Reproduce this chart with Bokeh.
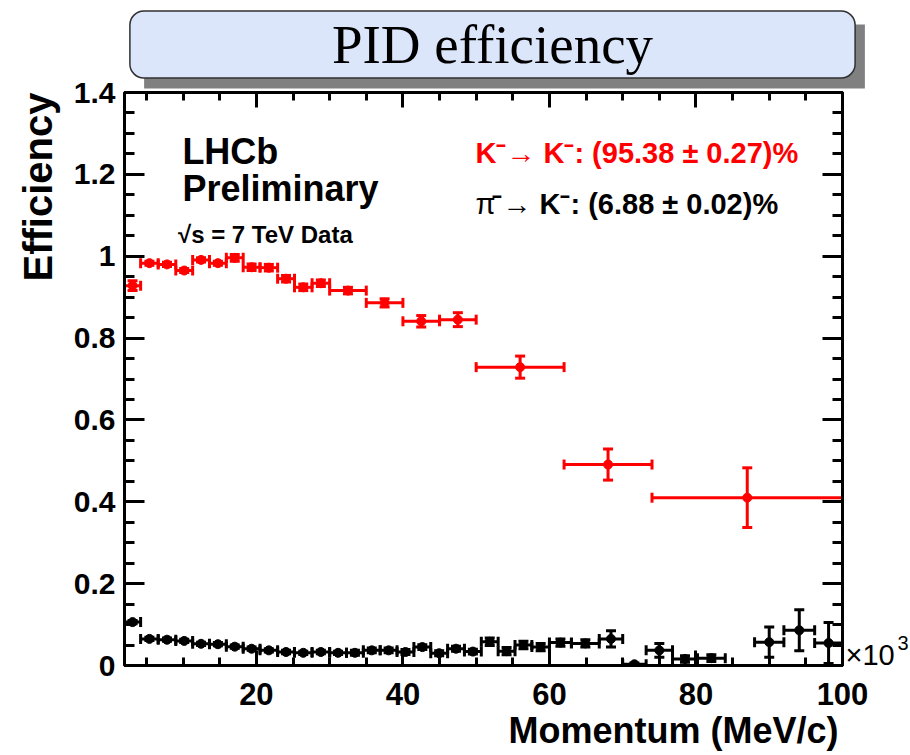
import numpy as np
from bokeh.plotting import figure
from bokeh.models import (Range1d, FixedTicker, LinearAxis, Whisker, TeeHead, Title,
                          ColumnDataSource, Label, CustomJSTickFormatter)
from bokeh.embed import file_html
from bokeh.resources import INLINE

# ---------------- data (momentum in 10^3 MeV/c) ----------------
# K- -> K- efficiency (red)
k_lo = [2.0, 4.2, 6.6, 9.0, 11.3, 13.6, 15.9, 18.2, 20.5, 22.9, 25.2, 27.6,
        30.0, 35.0, 40.0, 45.0, 50.0, 62.0, 74.0]
k_hi = [4.2, 6.6, 9.0, 11.3, 13.6, 15.9, 18.2, 20.5, 22.9, 25.2, 27.6, 30.0,
        35.0, 40.0, 45.0, 50.0, 62.0, 74.0, 100.0]
k_eff = [0.928, 0.983, 0.980, 0.965, 0.991, 0.983, 0.996, 0.973, 0.972, 0.945,
         0.924, 0.934, 0.916, 0.886, 0.841, 0.845, 0.729, 0.491, 0.410]
k_err = [0.012, 0.005, 0.005, 0.005, 0.005, 0.005, 0.008, 0.008, 0.008, 0.008,
         0.008, 0.008, 0.008, 0.010, 0.014, 0.017, 0.027, 0.038, 0.073]

# pi- -> K- mis-ID rate (black)
pi_lo = [2.0, 4.2, 6.6, 9.0, 11.3, 13.6, 15.9, 18.2, 20.5, 22.9, 25.2, 27.6,
         30.0, 32.3, 34.6, 36.9, 39.2, 41.5, 43.8, 46.1, 48.4, 50.7, 53.0,
         55.3, 57.6, 60.0, 63.0, 66.8, 70.0, 73.2, 76.8, 80.2, 88.0, 92.0, 96.2]
pi_hi = [4.2, 6.6, 9.0, 11.3, 13.6, 15.9, 18.2, 20.5, 22.9, 25.2, 27.6, 30.0,
         32.3, 34.6, 36.9, 39.2, 41.5, 43.8, 46.1, 48.4, 50.7, 53.0, 55.3,
         57.6, 60.0, 63.0, 66.8, 70.0, 73.2, 76.8, 80.2, 84.0, 92.0, 96.2, 100.0]
pi_eff = [0.106, 0.065, 0.063, 0.060, 0.053, 0.052, 0.046, 0.041, 0.037, 0.033,
          0.031, 0.033, 0.031, 0.031, 0.037, 0.037, 0.033, 0.045, 0.030, 0.041,
          0.034, 0.058, 0.035, 0.050, 0.045, 0.056, 0.054, 0.065, 0.003, 0.037,
          0.016, 0.018, 0.057, 0.086, 0.055]
pi_err = [0.004, 0.004, 0.004, 0.004, 0.004, 0.004, 0.004, 0.004, 0.004, 0.004,
          0.004, 0.004, 0.004, 0.006, 0.006, 0.006, 0.006, 0.006, 0.006, 0.006,
          0.006, 0.009, 0.009, 0.009, 0.009, 0.009, 0.009, 0.020, 0.003, 0.017,
          0.008, 0.008, 0.037, 0.050, 0.050]

y_ticks = [0, 0.2, 0.4, 0.6, 0.8, 1.0, 1.2, 1.4]
x_ticks = [20, 40, 60, 80, 100]

FONT = "Liberation Sans"
W, H = 910, 755
BL, BR, BT, BB = 124, 68, 92, 90          # borders around the frame
X0, X1, Y0, Y1 = 2, 100, 0, 1.4

p = figure(width=W, height=H, x_range=Range1d(X0, X1), y_range=Range1d(Y0, Y1),
           output_backend="svg", toolbar_location=None, title=None,
           min_border_left=BL, min_border_right=BR, min_border_top=BT, min_border_bottom=BB)
p.background_fill_color = "white"
p.border_fill_color = "white"
p.outline_line_color = "black"
p.outline_line_width = 3
p.xgrid.visible = False
p.ygrid.visible = False

# canvas pixel -> data helpers (for placing decorations outside the frame)
FW, FH = W - BL - BR, H - BT - BB
def px2x(px):
    return X0 + (px - BL) * (X1 - X0) / FW
def py2y(py):
    return Y0 + (H - BB - py) * (Y1 - Y0) / FH

xt = FixedTicker(ticks=x_ticks, minor_ticks=list(range(5, 101, 5)))
yt = FixedTicker(ticks=y_ticks, minor_ticks=[round(0.05 * i, 2) for i in range(29)])


def style_axis(ax, tin, tmin):
    ax.axis_line_width = 3
    ax.major_tick_line_width = 3
    ax.minor_tick_line_width = 3
    ax.major_tick_in = tin
    ax.major_tick_out = 0
    ax.minor_tick_in = tmin
    ax.minor_tick_out = 0
    ax.major_label_text_font = FONT
    ax.major_label_text_font_style = "bold"
    ax.major_label_text_color = "black"


xa = p.xaxis[0]
xa.ticker = xt
style_axis(xa, 15, 8)
xa.major_label_text_font_size = "31px"
xa.major_label_standoff = 17

ya = p.yaxis[0]
ya.ticker = yt
style_axis(ya, 20, 10)
ya.major_label_text_font_size = "30px"
ya.major_label_standoff = 9
ya.formatter = CustomJSTickFormatter(code="return (Math.round(tick*10)/10).toString()")

blank = CustomJSTickFormatter(code="return ''")
ra = LinearAxis(ticker=yt, formatter=blank)
style_axis(ra, 20, 10)
ra.major_label_text_font_size = "1px"
ra.major_label_standoff = 0
p.add_layout(ra, "right")
ta = LinearAxis(ticker=xt, formatter=blank)
style_axis(ta, 15, 8)
ta.major_label_text_font_size = "1px"
ta.major_label_standoff = 0
p.add_layout(ta, "above")

# axis titles (ROOT style: aligned to the end of the axis)
p.add_layout(Title(text="Momentum (MeV/c)", align="right", text_font=FONT,
                   text_font_size="36px", text_font_style="bold", text_color="black",
                   standoff=0, offset=4), "below")
p.add_layout(Title(text="Efficiency", align="right", text_font=FONT,
                   text_font_size="40px", text_font_style="bold", text_color="black",
                   standoff=22), "left")


def series(lo, hi, eff, err, color):
    lo = np.array(lo); hi = np.array(hi); eff = np.array(eff); err = np.array(err)
    src = ColumnDataSource(dict(x=(lo + hi) / 2, lo=lo, hi=hi, y=eff,
                                ylo=eff - err, yhi=eff + err))
    for dim, base, l, u in (("width", "y", "lo", "hi"), ("height", "x", "ylo", "yhi")):
        w = Whisker(source=src, base=base, lower=l, upper=u, dimension=dim,
                    line_color=color, line_width=3,
                    upper_head=TeeHead(size=10, line_color=color, line_width=3),
                    lower_head=TeeHead(size=10, line_color=color, line_width=3))
        p.add_layout(w)
    p.scatter("x", "y", source=src, size=9, color=color, marker="circle")


series(k_lo, k_hi, k_eff, k_err, "#ff0000")
series(pi_lo, pi_hi, pi_eff, pi_err, "black")


def lab(text, x, y, size, color="black", style="bold", align="left",
        baseline="alphabetic", font=FONT, xo=0, yo=0, side=None, **kw):
    l = Label(x=x, y=y, text=text, text_font=font, text_font_size=size,
              text_font_style=style, text_color=color, text_align=align,
              text_baseline=baseline, x_offset=xo, y_offset=yo, **kw)
    if side is None:
        p.add_layout(l)
    else:
        p.add_layout(l, side)

lab("LHCb", 9.9, 1.256, "36px")
lab("Preliminary", 9.9, 1.165, "36px")
lab("\u221as = 7 TeV Data", 9.3, 1.052, "24px")
lab("K\u207b\u2192 K\u207b: (95.38 \u00b1 0.27)%", 49.9, 1.252, "29px", color="#ff0000")
lab("\u03c0", 49.9, 1.127, "29px", style="normal")
lab("\u207b\u2192 K\u207b: (6.88 \u00b1 0.02)%", 49.9, 1.127, "29px", xo=17)

# exponent of the x axis, right of the frame
lab("\u00d710", X1, 0, "29px", style="normal", xo=3, yo=11, side="right")
lab("3", X1, 0, "20px", style="normal", xo=55, yo=23, side="right")

# ---------------- title box with drop shadow (above the frame) ----------------
# shadow: a tiny grey label drawn with a very wide grey border (keeps the panel small)
SH_W = 56
lab(".", px2x(504), py2y(56), "10px", color="#808080", style="normal", align="center",
    baseline="middle", side="above",
    background_fill_color="#808080", background_fill_alpha=1,
    border_line_color="#808080", border_line_width=SH_W, border_line_join="miter",
    padding=dict(left=331, right=331, top=0, bottom=0))
# box + title text
lab("PID efficiency", px2x(492), py2y(44), "55px", style="normal", align="center",
    baseline="middle", font="Liberation Serif", side="above",
    background_fill_color="#dbe6fa", background_fill_alpha=1,
    border_line_color="#303030", border_line_width=1.5, border_radius=14,
    padding=dict(left=202, right=202, top=3, bottom=3))

open("out.html", "w").write(file_html(p, INLINE))
